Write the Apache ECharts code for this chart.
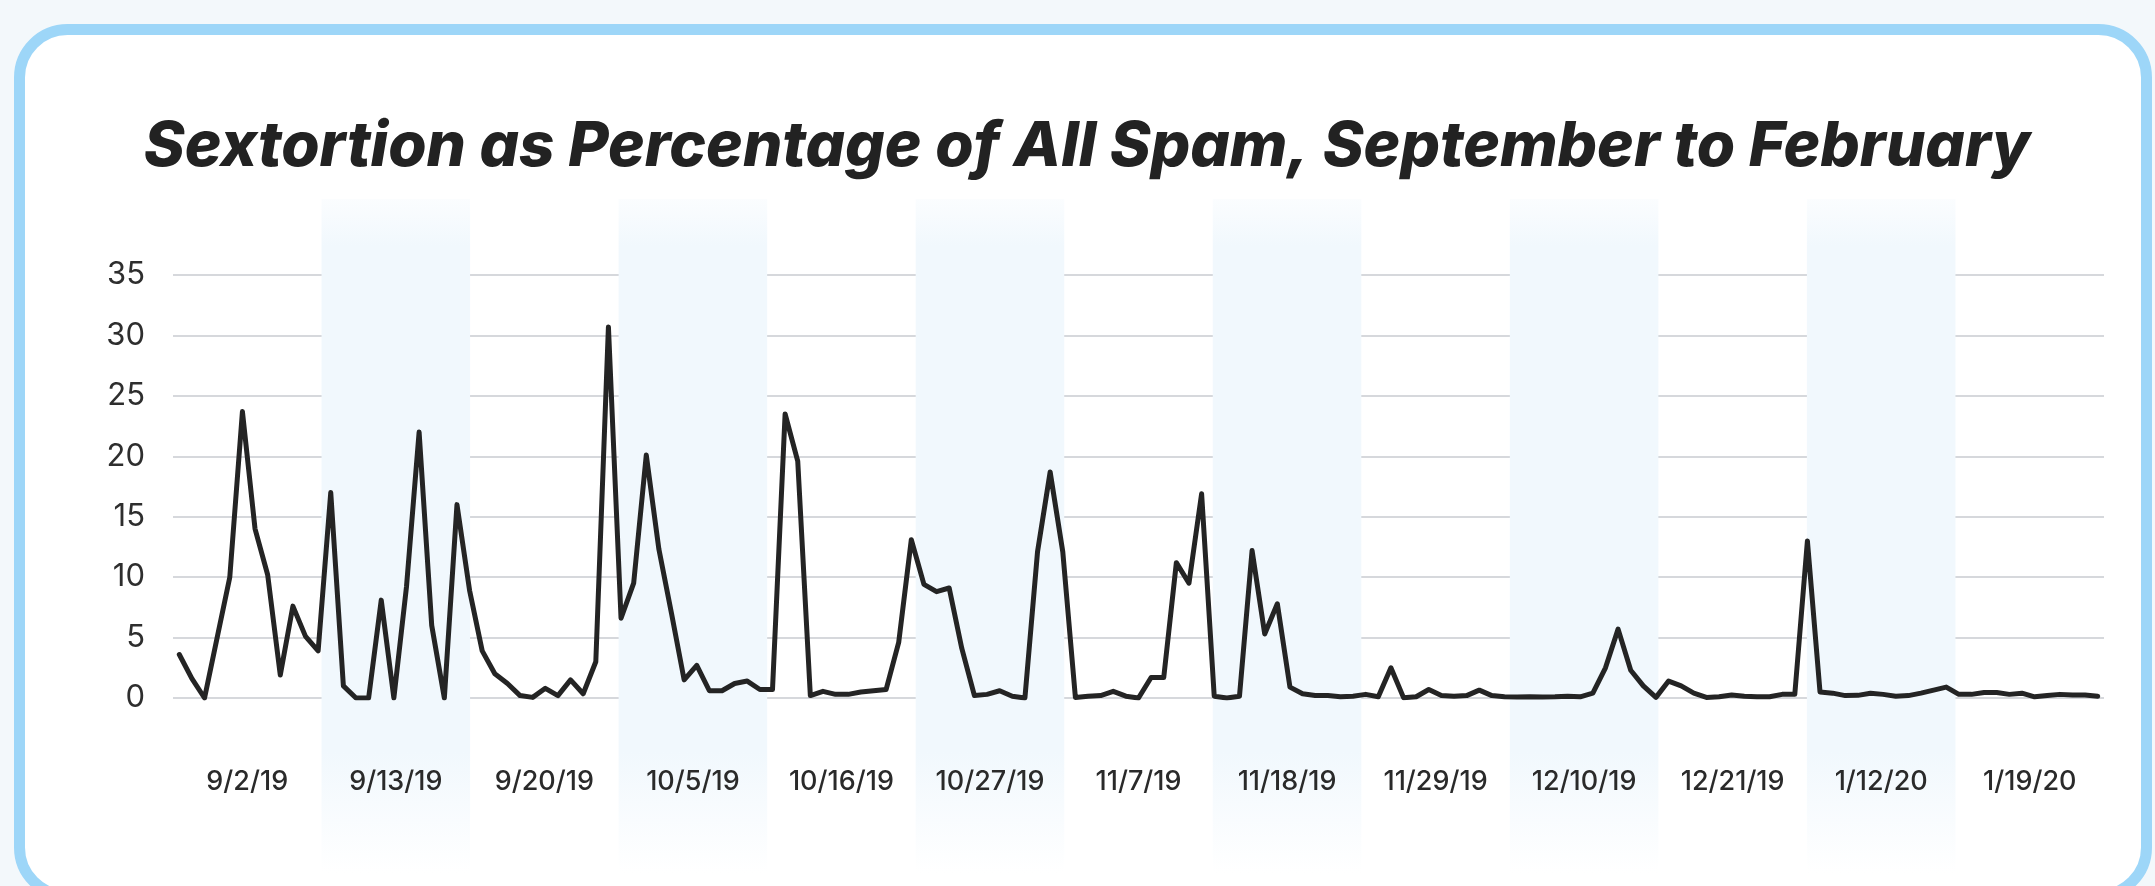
<!DOCTYPE html>
<html>
<head>
<meta charset="utf-8">
<script src="https://cdn.jsdelivr.net/npm/echarts@6/dist/echarts.min.js"></script>
<style>
html,body{margin:0;padding:0;background:#f3f8fb;}
#chart{width:2155px;height:886px;}
</style>
</head>
<body>
<div id="chart"></div>
<script>
const titleText = 'Sextortion as Percentage of All Spam, September to February';
const tickLabels = ['9/2/19','9/13/19','9/20/19','10/5/19','10/16/19','10/27/19','11/7/19','11/18/19','11/29/19','12/10/19','12/21/19','1/12/20','1/19/20'];
const yTicks = [0, 5, 10, 15, 20, 25, 30, 35];
const sextortionPct = [
  3.6, 1.6, 0, 5.0, 10.0, 23.7, 14.0, 10.2, 1.9, 7.6,
  5.1, 3.9, 17.0, 1.0, 0, 0, 8.1, 0, 9.2, 22.0,
  6.0, 0, 16.0, 8.9, 3.9, 2.0, 1.2, 0.2, 0.05, 0.8,
  0.2, 1.5, 0.35, 3.0, 30.7, 6.6, 9.5, 20.1, 12.3, 7.0,
  1.5, 2.7, 0.6, 0.6, 1.2, 1.4, 0.7, 0.7, 23.5, 19.6,
  0.2, 0.55, 0.3, 0.3, 0.5, 0.6, 0.7, 4.6, 13.1, 9.4,
  8.8, 9.1, 4.1, 0.2, 0.3, 0.6, 0.15, 0, 12.1, 18.7,
  12.1, 0.05, 0.15, 0.2, 0.55, 0.15, 0, 1.7, 1.7, 11.2,
  9.5, 16.9, 0.15, 0, 0.15, 12.2, 5.3, 7.8, 0.9, 0.35,
  0.2, 0.2, 0.1, 0.15, 0.3, 0.1, 2.5, 0.03, 0.1, 0.7,
  0.2, 0.15, 0.2, 0.65, 0.2, 0.1, 0.08, 0.1, 0.08, 0.1,
  0.15, 0.1, 0.4, 2.5, 5.7, 2.3, 1.0, 0.05, 1.4, 1.0,
  0.4, 0.05, 0.1, 0.25, 0.15, 0.1, 0.1, 0.3, 0.3, 13.0,
  0.5, 0.4, 0.2, 0.22, 0.4, 0.3, 0.15, 0.2, 0.4, 0.65,
  0.9, 0.3, 0.3, 0.45, 0.45, 0.3, 0.4, 0.1, 0.2, 0.3,
  0.25, 0.25, 0.15
];
const dayIndex = sextortionPct.map((_, i) => String(i));

const chart = echarts.init(document.getElementById('chart'), null, {renderer: 'canvas'});

const bandGradient = new echarts.graphic.LinearGradient(0, 0, 0, 1, [
  {offset: 0, color: 'rgba(241,248,253,0.3)'},
  {offset: 0.07, color: 'rgba(241,248,253,1)'},
  {offset: 0.82, color: 'rgba(241,248,253,1)'},
  {offset: 1, color: 'rgba(241,248,253,0)'}
]);

const option = {
  backgroundColor: '#f3f8fb',
  animation: false,
  graphic: [
    {
      type: 'rect', z: -10, silent: true,
      shape: {x: 19.5, y: 29.5, width: 2127, height: 866, r: 48},
      style: {fill: '#ffffff', stroke: '#9dd6f8', lineWidth: 11}
    },
    {
      type: 'text', z: 10,
      x: 1087, y: 147,
      style: {
        text: titleText,
        textAlign: 'center', textVerticalAlign: 'middle',
        fontFamily: 'Inter', fontSize: 62, fontWeight: 800, fontStyle: 'italic',
        fill: '#222222'
      }
    }
  ],
  grid: [
    {left: 173, right: 51, top: 275, bottom: 188, containLabel: false},
    {left: 173, right: 51, top: 199, bottom: 13, containLabel: false, z: 0}
  ],
  xAxis: [
    {
      type: 'category', gridIndex: 0, data: dayIndex, boundaryGap: true,
      position: 'bottom',
      axisLine: {show: false}, axisTick: {show: false}, axisLabel: {show: false},
      splitLine: {show: false}
    },
    {
      type: 'category', gridIndex: 0, data: tickLabels, boundaryGap: true,
      position: 'bottom', offset: 0,
      axisLine: {show: false}, axisTick: {show: false},
      axisLabel: {
        show: true, margin: 70, interval: 0,
        fontFamily: 'Inter', fontSize: 27, fontWeight: 500, color: '#2a2a2a'
      },
      splitLine: {show: false}
    },
    {
      type: 'category', gridIndex: 1, data: tickLabels, boundaryGap: true,
      axisLine: {show: false}, axisTick: {show: false}, axisLabel: {show: false},
      splitLine: {show: false},
      splitArea: {show: true, interval: 0, areaStyle: {color: ['rgba(255,255,255,0)', bandGradient]}}
    }
  ],
  yAxis: [
    {
      type: 'value', gridIndex: 0, min: yTicks[0], max: yTicks[yTicks.length - 1], interval: 5,
      axisLine: {show: false}, axisTick: {show: false},
      axisLabel: {margin: 28, fontFamily: 'Inter', fontSize: 31, fontWeight: 400, color: '#2e2e2e'},
      splitLine: {show: true, lineStyle: {color: '#c9cbd1', width: 1.5}}
    },
    {
      type: 'value', gridIndex: 1, min: 0, max: 1, show: false,
      splitLine: {show: false}
    }
  ],
  series: [
    {
      type: 'line', name: 'Sextortion %', xAxisIndex: 0, yAxisIndex: 0,
      data: sextortionPct, symbol: 'none', z: 5,
      lineStyle: {color: '#242424', width: 5, join: 'round', cap: 'round'}
    }
  ]
};
chart.setOption(option);
</script>
</body>
</html>
